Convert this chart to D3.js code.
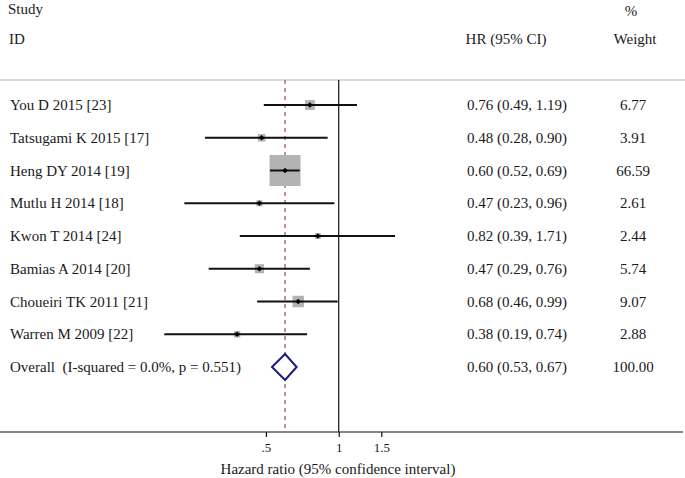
<!DOCTYPE html>
<html>
<head>
<meta charset="utf-8">
<script src="https://cdn.jsdelivr.net/npm/d3@7"></script>
<style>
  html, body { margin: 0; padding: 0; background: #fff; }
  svg { display: block; }
  text { font-family: "Liberation Serif", "Times New Roman", serif; fill: #1a1a1a; }
</style>
</head>
<body>
<svg id="chart" width="685" height="478"></svg>
<script>
const studies = ["You D 2015 [23]", "Tatsugami K 2015 [17]", "Heng DY 2014 [19]", "Mutlu H 2014 [18]",
  "Kwon T 2014 [24]", "Bamias A 2014 [20]", "Choueiri TK 2011 [21]", "Warren M 2009 [22]"];
const hr = [0.76, 0.48, 0.60, 0.47, 0.82, 0.47, 0.68, 0.38];
const lower = [0.49, 0.28, 0.52, 0.23, 0.39, 0.29, 0.46, 0.19];
const upper = [1.19, 0.90, 0.69, 0.96, 1.71, 0.76, 0.99, 0.74];
const weights = [6.77, 3.91, 66.59, 2.61, 2.44, 5.74, 9.07, 2.88];
const overallLabel = "Overall  (I-squared = 0.0%, p = 0.551)";
const overall = { hr: 0.60, lower: 0.53, upper: 0.67, weight: 100.00 };
const tickValues = [0.5, 1, 1.5];
const tickLabels = [".5", "1", "1.5"];

const svg = d3.select("#chart");
const W = 685;

const x = d3.scaleLog().domain([0.5, 1.5]).range([265.9, 381.3]);
const rowIdx = d3.range(studies.length + 1);
const y = d3.scaleLinear().domain([0, 8]).range([105, 367]);
const side = d3.scaleSqrt().domain([0, 66.59]).range([0, 31]);

const fmt = d3.format(".2f");

// headers
svg.append("text").attr("x", 8).attr("y", 14).style("font-size", "15px").text("Study");
svg.append("text").attr("x", 9).attr("y", 44).style("font-size", "15px").text("ID");
svg.append("text").attr("x", 506).attr("y", 44).attr("text-anchor", "middle").style("font-size", "15px").text("HR (95% CI)");
svg.append("text").attr("x", 631).attr("y", 16).attr("text-anchor", "middle").style("font-size", "15px").text("%");
svg.append("text").attr("x", 635).attr("y", 44).attr("text-anchor", "middle").style("font-size", "15px").text("Weight");

// top separator
svg.append("line").attr("x1", 0).attr("x2", W).attr("y1", 80).attr("y2", 80)
  .attr("stroke", "#cfcfcf").attr("stroke-width", 1.5);

const axisY = 432;

// null line at 1
svg.append("line").attr("x1", x(1)).attr("x2", x(1)).attr("y1", 80).attr("y2", axisY)
  .attr("stroke", "#111").attr("stroke-width", 1.2);

// overall dashed line
svg.append("line").attr("x1", x(overall.hr)).attr("x2", x(overall.hr)).attr("y1", 80).attr("y2", axisY)
  .attr("stroke", "#b0404c").attr("stroke-width", 1.2).attr("stroke-dasharray", "4,4");

// study rows
const rows = svg.append("g").selectAll("g").data(studies).join("g");

rows.append("text").attr("x", 10).attr("y", (d, i) => y(i) + 5)
  .style("font-size", "15px").text(d => d);

rows.append("rect")
  .attr("x", (d, i) => x(hr[i]) - side(weights[i]) / 2)
  .attr("y", (d, i) => y(i) - side(weights[i]) / 2)
  .attr("width", (d, i) => side(weights[i]))
  .attr("height", (d, i) => side(weights[i]))
  .attr("fill", "#b3b3b3");

rows.append("line")
  .attr("x1", (d, i) => x(lower[i])).attr("x2", (d, i) => x(upper[i]))
  .attr("y1", (d, i) => y(i)).attr("y2", (d, i) => y(i))
  .attr("stroke", "#111").attr("stroke-width", 2);

rows.append("path")
  .attr("d", (d, i) => {
    const cx = x(hr[i]), cy = y(i), r = 2.8;
    return `M${cx},${cy - r}L${cx + r},${cy}L${cx},${cy + r}L${cx - r},${cy}Z`;
  })
  .attr("fill", "#000");

rows.append("text").attr("x", 467).attr("y", (d, i) => y(i) + 5)
  .style("font-size", "15px")
  .text((d, i) => `${fmt(hr[i])} (${fmt(lower[i])}, ${fmt(upper[i])})`);

rows.append("text").attr("x", 633).attr("y", (d, i) => y(i) + 5)
  .attr("text-anchor", "middle").style("font-size", "15px")
  .text((d, i) => fmt(weights[i]));

// overall row
const oy = y(8);
svg.append("text").attr("x", 10).attr("y", oy + 5).style("font-size", "15px")
  .attr("xml:space", "preserve").style("white-space", "pre").text(overallLabel);
svg.append("path")
  .attr("d", `M${x(overall.lower)},${oy}L${x(overall.hr)},${oy - 13}L${x(overall.upper)},${oy}L${x(overall.hr)},${oy + 13}Z`)
  .attr("fill", "#fff").attr("stroke", "#1c1c80").attr("stroke-width", 2);
svg.append("text").attr("x", 467).attr("y", oy + 5).style("font-size", "15px")
  .text(`${fmt(overall.hr)} (${fmt(overall.lower)}, ${fmt(overall.upper)})`);
svg.append("text").attr("x", 633).attr("y", oy + 5).attr("text-anchor", "middle").style("font-size", "15px")
  .text(fmt(overall.weight));

// x axis
svg.append("line").attr("x1", 0).attr("x2", 683).attr("y1", axisY).attr("y2", axisY)
  .attr("stroke", "#111").attr("stroke-width", 1.2);
const axis = d3.axisBottom(x).tickValues(tickValues).tickFormat((d, i) => tickLabels[i]).tickSize(5).tickPadding(6);
const ag = svg.append("g").attr("transform", `translate(0,${axisY})`).call(axis);
ag.select(".domain").remove();
ag.selectAll(".tick line").attr("stroke", "#111").attr("stroke-width", 1.2);
ag.selectAll(".tick text").style("font-size", "13px").style("font-family", "'Liberation Serif', serif").attr("fill", "#1a1a1a");

svg.append("text").attr("x", 338).attr("y", 474).attr("text-anchor", "middle").style("font-size", "15px")
  .text("Hazard ratio (95% confidence interval)");
</script>
</body>
</html>
